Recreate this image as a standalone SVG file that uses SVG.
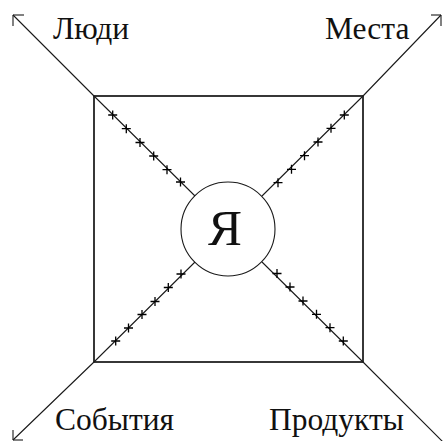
<svg xmlns="http://www.w3.org/2000/svg" width="444" height="441" viewBox="0 0 444 441">
<style>
.ln{fill:none;stroke:#1a1a1a;stroke-width:1.1}
.sq{fill:none;stroke:#222;stroke-width:1.8}
.tk{fill:none;stroke:#000;stroke-width:1.3}
.lbl{font-family:"Liberation Serif","Times New Roman",serif;font-size:31.5px;fill:#111}
.me{font-family:"Liberation Serif","Times New Roman",serif;font-size:51px;fill:#111;text-anchor:middle}
</style>
<defs>
<path id="plus" class="tk" d="M-4.5,0H4.5M0,-4.5V4.5"/>
</defs>
<rect width="444" height="441" fill="#fff"/>
<g id="square"><rect class="sq" x="94" y="96" width="269" height="266"/></g>
<g id="connectors">
<polyline class="ln" points="13,15 94,96 195,196"/>
<polyline class="ln" points="13,15 24,15"/><polyline class="ln" points="13,15 13,26"/>
<polyline class="ln" points="441,15 363,96 262,196"/>
<polyline class="ln" points="441,15 431,15"/><polyline class="ln" points="441,15 441,26"/>
<polyline class="ln" points="13,440 94,362 195,262"/>
<polyline class="ln" points="13,440 23,440"/><polyline class="ln" points="13,440 13,430"/>
<polyline class="ln" points="445,444 363,362 262,262"/>
<g id="ticks">
<use href="#plus" x="112.7" y="115"/><use href="#plus" x="126.3" y="128.7"/><use href="#plus" x="140" y="142.5"/><use href="#plus" x="153.7" y="156"/><use href="#plus" x="167" y="169.7"/><use href="#plus" x="180.5" y="182"/>
<use href="#plus" x="344.3" y="115"/><use href="#plus" x="331" y="128.3"/><use href="#plus" x="318" y="142"/><use href="#plus" x="304.5" y="155.7"/><use href="#plus" x="291.5" y="169.3"/><use href="#plus" x="278" y="182.7"/>
<use href="#plus" x="115.7" y="341"/><use href="#plus" x="128.5" y="328"/><use href="#plus" x="142" y="314.5"/><use href="#plus" x="155" y="301.5"/><use href="#plus" x="168.3" y="287.5"/><use href="#plus" x="181" y="274"/>
<use href="#plus" x="277" y="273.5"/><use href="#plus" x="290" y="287"/><use href="#plus" x="303" y="301"/><use href="#plus" x="316.5" y="314.3"/><use href="#plus" x="330" y="327.7"/><use href="#plus" x="343.3" y="341"/>
</g>
</g>
<g id="me"><circle class="ln" cx="228" cy="229" r="47"/><text class="me" x="225" y="245">Я</text></g>
<g id="people"><text class="lbl" x="53" y="39">Люди</text></g>
<g id="places"><text class="lbl" x="325" y="39">Места</text></g>
<g id="events"><text class="lbl" x="55" y="430">События</text></g>
<g id="products"><text class="lbl" x="269" y="430">Продукты</text></g>
</svg>
